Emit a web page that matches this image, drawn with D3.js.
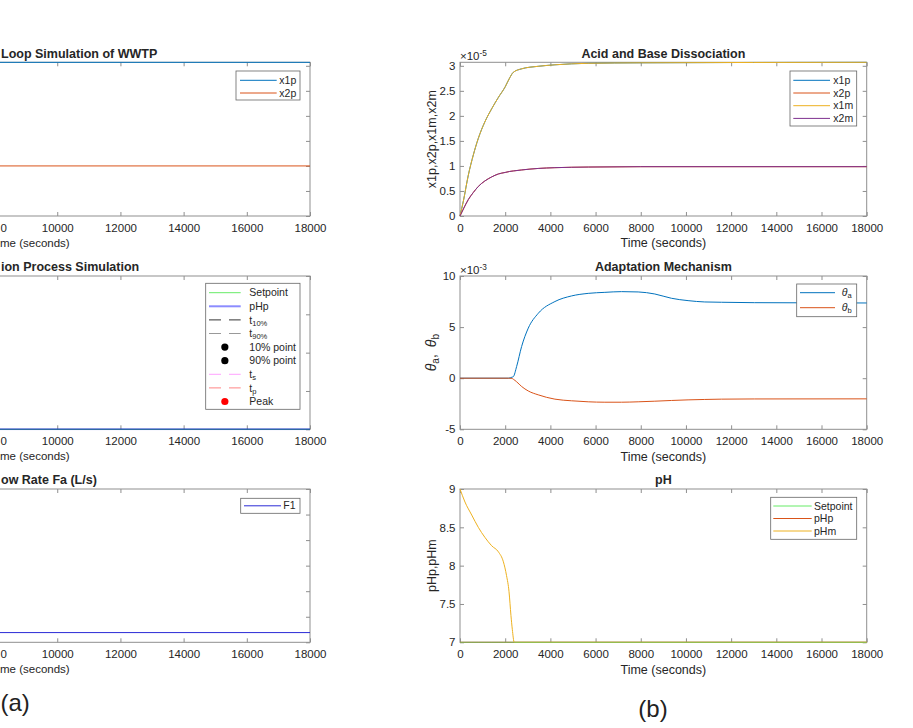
<!DOCTYPE html>
<html>
<head>
<meta charset="utf-8">
<script src="https://cdn.jsdelivr.net/npm/d3@7"></script>
<style>
  body { margin: 0; background: #fff; }
  svg { display: block; font-family: "Liberation Sans", Arial, Helvetica, sans-serif; }
</style>
</head>
<body>
<script>
// ---- data ----
let timeTicks = [0, 2000, 4000, 6000, 8000, 10000, 12000, 14000, 16000, 18000];

// (b) acid / base dissociation, values in units of 1e-5
let acidT = [0, 150, 370, 590, 810, 1100, 1400, 1700, 2000, 2200, 2360, 2730, 3460, 4200, 5680, 8000, 18000];
let x1p   = [0, 0.30, 0.82, 1.22, 1.55, 1.88, 2.14, 2.37, 2.58, 2.76, 2.87, 2.94, 2.99, 3.02, 3.05, 3.06, 3.07];
let x2p   = [0, 0.14, 0.33, 0.47, 0.59, 0.70, 0.78, 0.84, 0.87, 0.89, 0.90, 0.92, 0.95, 0.965, 0.978, 0.985, 0.985];
let x1m   = [0, 0.30, 0.82, 1.22, 1.55, 1.88, 2.14, 2.37, 2.58, 2.76, 2.87, 2.94, 2.99, 3.02, 3.05, 3.06, 3.07];
let x2m   = [0, 0.14, 0.33, 0.47, 0.59, 0.70, 0.78, 0.84, 0.87, 0.89, 0.90, 0.92, 0.95, 0.965, 0.978, 0.985, 0.985];
let acidTicks = [0, 0.5, 1, 1.5, 2, 2.5, 3];

// (b) adaptation mechanism, values in units of 1e-3
let adaptT = [0, 2140, 2300, 2360, 2506, 2727, 3022, 3464, 4200, 4937, 5675, 6411, 7148, 7885, 8622, 9358, 10095, 10832, 11570, 13043, 18000];
let thetaA = [0, 0, 0.1, 0.15, 1.14, 3.1, 4.9, 6.35, 7.5, 8.05, 8.3, 8.4, 8.47, 8.44, 8.24, 7.82, 7.59, 7.46, 7.43, 7.39, 7.36];
let thetaB = [0, 0, -0.02, -0.1, -0.35, -0.81, -1.25, -1.63, -2.05, -2.21, -2.31, -2.35, -2.35, -2.31, -2.25, -2.18, -2.12, -2.08, -2.05, -2.03, -2.02];
let adaptTicks = [-5, 0, 5, 10];

// (b) pH
let phT      = [0, 220, 520, 810, 1100, 1400, 1700, 1920, 2060, 2170, 2255, 2315, 2400, 18000];
let pHm      = [9.0, 8.83, 8.66, 8.5, 8.37, 8.26, 8.18, 8.05, 7.87, 7.66, 7.35, 7.17, 7.0, 7.0];
let pHp      = [7, 7, 7, 7, 7, 7, 7, 7, 7, 7, 7, 7, 7, 7];
let setpoint = [7, 7, 7, 7, 7, 7, 7, 7, 7, 7, 7, 7, 7, 7];
let phTicks = [7, 7.5, 8, 8.5, 9];

// (a) left figure (only its right part is in frame)
let loopT = [0, 18000];
let loopX1p = [3.07, 3.07];
let loopX2p = [1.0, 1.0];
let procT = [0, 18000];
let procSet = [7, 7];
let procPHp = [7, 7];
let flowT = [0, 18000];
let flowF1 = [0.38, 0.38];
let flowTicks = [0, 1, 2, 3, 4, 5, 6];

// ---- layout ----
let W = 913, H = 728;
let colA = {x0: -258.7, x1: 310};
let colB = {x0: 460, x1: 866.7};
let rows = [{y0: 62.3, y1: 216}, {y0: 276, y1: 429.3}, {y0: 489, y1: 642.3}];

let ink = "#262626", boxColor = "#8f8f8f";
let mBlue = "#0072BD", mOrange = "#D95319", mYellow = "#EDB120", mPurple = "#7E2F8E";

let svg = d3.select("body").append("svg")
    .attr("width", W).attr("height", H);
svg.append("rect").attr("width", W).attr("height", H).attr("fill", "#fff");

let clipN = 0;

// label parts: [text, "sub" | "sup" | "it" | undefined]
function richText(sel, parts, size) {
    parts.forEach(p => {
        let t = sel.append("tspan").text(p[0]);
        if (p[1] === "sub") t.attr("font-size", size * 0.72).attr("baseline-shift", "-28%");
        if (p[1] === "sup") t.attr("font-size", size * 0.72).attr("baseline-shift", "45%");
        if (p[1] === "it") t.attr("font-style", "italic");
    });
}

function panel(o) {
    let x = d3.scaleLinear().domain([0, 18000]).range([o.col.x0, o.col.x1]);
    let y = d3.scaleLinear().domain(o.yDomain).range([o.row.y1, o.row.y0]);
    let g = svg.append("g");
    let cut = o.col.x0 < 0;   // left figure runs off the frame

    let id = "clip" + (clipN++);
    svg.append("clipPath").attr("id", id).append("rect")
        .attr("x", o.col.x0 - 1).attr("y", o.row.y0 - 1)
        .attr("width", o.col.x1 - o.col.x0 + 2).attr("height", o.row.y1 - o.row.y0 + 2);

    // axes, ticks pointing inward (box on)
    let styleAxis = a => {
        a.select(".domain").remove();
        a.selectAll("line").attr("stroke", boxColor);
        a.selectAll("text").attr("fill", ink).attr("font-size", 11.5)
            .attr("font-family", "Liberation Sans, Arial, sans-serif");
    };
    let xFmt = d => (cut && x(d) < 20) ? "" : String(d);
    g.append("g").attr("transform", `translate(0,${o.row.y1})`)
        .call(d3.axisBottom(x).tickValues(timeTicks).tickFormat(xFmt)
            .tickSizeInner(-4).tickSizeOuter(0).tickPadding(8))
        .call(styleAxis);
    g.append("g").attr("transform", `translate(0,${o.row.y0})`)
        .call(d3.axisTop(x).tickValues(timeTicks).tickFormat("")
            .tickSizeInner(-4).tickSizeOuter(0))
        .call(styleAxis);
    g.append("g").attr("transform", `translate(${o.col.x0},0)`)
        .call(d3.axisLeft(y).tickValues(o.yTicks).tickFormat(d => cut ? "" : String(d))
            .tickSizeInner(-4).tickSizeOuter(0).tickPadding(4.5))
        .call(styleAxis);
    g.append("g").attr("transform", `translate(${o.col.x1},0)`)
        .call(d3.axisRight(y).tickValues(o.yTicks).tickFormat("")
            .tickSizeInner(-4).tickSizeOuter(0))
        .call(styleAxis);

    g.append("rect")
        .attr("x", o.col.x0).attr("y", o.row.y0)
        .attr("width", o.col.x1 - o.col.x0).attr("height", o.row.y1 - o.row.y0)
        .attr("fill", "none").attr("stroke", boxColor).attr("stroke-width", 1);

    // data lines
    let line = d3.line().x(d => x(d[0])).y(d => y(d[1])).curve(d3.curveMonotoneX);
    o.series.forEach(s => {
        g.append("path")
            .datum(d3.zip(s.t, s.v))
            .attr("clip-path", `url(#${id})`)
            .attr("fill", "none")
            .attr("stroke", s.color)
            .attr("stroke-width", s.w || 1)
            .attr("stroke-opacity", s.op || 1)
            .attr("d", line);
    });

    // title
    let cx = (o.col.x0 + o.col.x1) / 2;
    let title = g.append("text")
        .attr("y", o.row.y0 - 9).attr("dy", "0.35em")
        .attr("font-size", 12.5).attr("font-weight", "bold").attr("fill", ink)
        .text(o.title);
    if (cut) title.attr("x", 1);
    else title.attr("x", cx).attr("text-anchor", "middle");

    // x label; on the cut figure only the visible tail of the words
    if (cut) {
        g.append("text")
            .attr("x", 0.4).attr("y", o.row.y1 + 12).attr("dy", "0.35em")
            .attr("font-size", 11.5).attr("fill", ink).text("0");
        g.append("text")
            .attr("x", 0).attr("y", o.row.y1 + 27).attr("dy", "0.35em")
            .attr("font-size", 11.5).attr("fill", ink).text("me (seconds)");
    } else {
        g.append("text")
            .attr("x", cx).attr("y", o.row.y1 + 27).attr("dy", "0.35em")
            .attr("text-anchor", "middle").attr("font-size", 12.5).attr("fill", ink)
            .text("Time (seconds)");
    }

    // y label
    if (o.yLabel) {
        let yl = g.append("text")
            .attr("transform", `translate(${o.col.x0 - 28.5},${(o.row.y0 + o.row.y1) / 2}) rotate(-90)`)
            .attr("dy", "0.35em").attr("text-anchor", "middle")
            .attr("font-size", o.yLabelSize || 12.5).attr("fill", ink);
        richText(yl, o.yLabel, o.yLabelSize || 12.5);
    }

    // exponent
    if (o.exp) {
        let ex = g.append("text")
            .attr("x", o.col.x0).attr("y", o.row.y0 - 6.5).attr("dy", "0.35em")
            .attr("font-size", 11.5).attr("fill", ink);
        richText(ex, [["\u00d710"], [o.exp, "sup"]], 11.5);
    }

    // legend
    if (o.legend) {
        let L = o.legend;
        let lg = g.append("g");
        lg.append("rect")
            .attr("x", L.x).attr("y", L.y).attr("width", L.w).attr("height", L.h)
            .attr("fill", "#fff").attr("stroke", "#666").attr("stroke-width", 0.8);
        L.items.forEach((it, i) => {
            let yy = L.y + L.first + i * L.step;
            if (it.dot) {
                lg.append("circle")
                    .attr("cx", L.x + (L.lx0 + L.lx1) / 2).attr("cy", yy).attr("r", 3.6)
                    .attr("fill", it.color);
            } else {
                lg.append("line")
                    .attr("x1", L.x + L.lx0).attr("x2", L.x + L.lx1)
                    .attr("y1", yy).attr("y2", yy)
                    .attr("stroke", it.color).attr("stroke-width", it.w || 1)
                    .attr("stroke-opacity", it.op || 1)
                    .attr("stroke-dasharray", it.dash || null);
            }
            let tx = lg.append("text")
                .attr("x", L.x + L.tx).attr("y", yy).attr("dy", "0.35em")
                .attr("font-size", 10.5).attr("fill", ink);
            richText(tx, it.label, 10.5);
        });
    }
}

// ---- (a) ----
panel({
    col: colA, row: rows[0], yDomain: [0, 3.07], yTicks: acidTicks,
    title: "Loop Simulation of WWTP",
    series: [
        {t: loopT, v: loopX1p, color: mBlue},
        {t: loopT, v: loopX2p, color: mOrange}
    ],
    legend: {x: 236, y: 71, w: 64, h: 29, first: 9.3, step: 12.7, lx0: 4, lx1: 40.7, tx: 43.3,
        items: [{label: [["x1p"]], color: mBlue}, {label: [["x2p"]], color: mOrange}]}
});

panel({
    col: colA, row: rows[1], yDomain: [7, 9], yTicks: phTicks,
    title: "ion Process Simulation",
    series: [
        {t: procT, v: procSet, color: "#00dd00", op: 0.6},
        {t: procT, v: procPHp, color: "#0000ff", w: 2, op: 0.45}
    ],
    legend: {x: 205.7, y: 283.3, w: 94.3, h: 126, first: 9.4, step: 13.6, lx0: 3.3, lx1: 35, tx: 43.6,
        items: [
            {label: [["Setpoint"]], color: "#00dd00", op: 0.6},
            {label: [["pHp"]], color: "#0000ff", w: 2, op: 0.45},
            {label: [["t"], ["10%", "sub"]], color: "#333", dash: "12,8"},
            {label: [["t"], ["90%", "sub"]], color: "#999", dash: "12,8"},
            {label: [["10% point"]], color: "#000", dot: true},
            {label: [["90% point"]], color: "#000", dot: true},
            {label: [["t"], ["s", "sub"]], color: "#ff66ff", dash: "12,8", op: 0.6},
            {label: [["t"], ["p", "sub"]], color: "#ff3333", dash: "12,8", op: 0.6},
            {label: [["Peak"]], color: "#ff0000", dot: true}
        ]}
});

panel({
    col: colA, row: rows[2], yDomain: [0, 6], yTicks: flowTicks,
    title: "ow Rate Fa (L/s)",
    series: [{t: flowT, v: flowF1, color: "#2b2bd6"}],
    legend: {x: 240.7, y: 498.3, w: 59.3, h: 15, first: 7.5, step: 12.7, lx0: 3.3, lx1: 40.3, tx: 42.6,
        items: [{label: [["F1"]], color: "#2b2bd6"}]}
});

// ---- (b) ----
panel({
    col: colB, row: rows[0], yDomain: [0, 3.07], yTicks: acidTicks, exp: "-5",
    title: "Acid and Base Dissociation",
    yLabel: [["x1p,x2p,x1m,x2m"]],
    series: [
        {t: acidT, v: x1p, color: mBlue},
        {t: acidT, v: x2p, color: mOrange},
        {t: acidT, v: x1m, color: mYellow},
        {t: acidT, v: x2m, color: mPurple}
    ],
    legend: {x: 790, y: 71, w: 66.7, h: 55, first: 9.3, step: 12.7, lx0: 3.3, lx1: 40, tx: 43.3,
        items: [
            {label: [["x1p"]], color: mBlue},
            {label: [["x2p"]], color: mOrange},
            {label: [["x1m"]], color: mYellow},
            {label: [["x2m"]], color: mPurple}
        ]}
});

panel({
    col: colB, row: rows[1], yDomain: [-5, 10], yTicks: adaptTicks, exp: "-3",
    title: "Adaptation Mechanism",
    yLabel: [["\u03b8", "it"], ["a", "sub"], [",\u2002"], ["\u03b8", "it"], ["b", "sub"]],
    yLabelSize: 14,
    series: [
        {t: adaptT, v: thetaA, color: mBlue},
        {t: adaptT, v: thetaB, color: mOrange}
    ],
    legend: {x: 796.7, y: 284, w: 60, h: 32.7, first: 8.7, step: 15, lx0: 3.3, lx1: 38.3, tx: 45,
        items: [
            {label: [["\u03b8", "it"], ["a", "sub"]], color: mBlue},
            {label: [["\u03b8", "it"], ["b", "sub"]], color: mOrange}
        ]}
});

panel({
    col: colB, row: rows[2], yDomain: [7, 9], yTicks: phTicks,
    title: "pH",
    yLabel: [["pHp,pHm"]],
    series: [
        {t: phT, v: pHp, color: mOrange},
        {t: phT, v: pHm, color: mYellow},
        {t: phT, v: setpoint, color: "#66cc66", op: 0.8}
    ],
    legend: {x: 770.7, y: 497.3, w: 86, h: 42, first: 8.7, step: 12.5, lx0: 2.6, lx1: 41, tx: 43.3,
        items: [
            {label: [["Setpoint"]], color: "#00dd00", op: 0.6},
            {label: [["pHp"]], color: mOrange},
            {label: [["pHm"]], color: mYellow}
        ]}
});

// sub-figure captions
svg.append("text").attr("x", 0.5).attr("y", 711).attr("font-size", 24).attr("fill", "#222").text("(a)");
svg.append("text").attr("x", 653).attr("y", 717).attr("text-anchor", "middle")
    .attr("font-size", 24).attr("fill", "#222").text("(b)");
</script>
</body>
</html>
